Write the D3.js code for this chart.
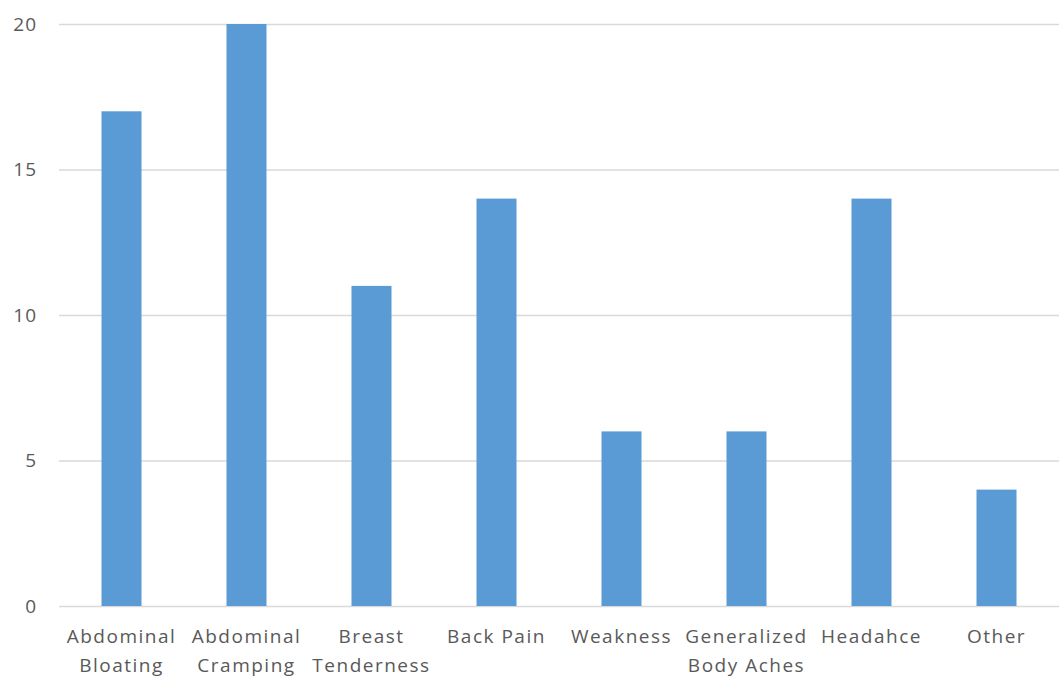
<!DOCTYPE html>
<html>
<head>
<meta charset="utf-8">
<script src="https://cdn.jsdelivr.net/npm/d3@7"></script>
<style>
  html, body { margin: 0; padding: 0; background: #fff; }
  svg { display: block; font-family: "Open Sans", "Noto Sans", sans-serif; }
</style>
</head>
<body>
<div id="chart"></div>
<script>
// ============ Data ============
const categories = [
  ['Abdominal', 'Bloating'],
  ['Abdominal', 'Cramping'],
  ['Breast', 'Tenderness'],
  ['Back Pain'],
  ['Weakness'],
  ['Generalized', 'Body Aches'],
  ['Headahce'],
  ['Other']
];
const values = [17, 20, 11, 14, 6, 6, 14, 4];
const yTicks = [0, 5, 10, 15, 20];

// ============ Layout ============
const W = 1063, H = 677;
const plot = { left: 59, right: 1059, top: 24, bottom: 606 };

const svg = d3.select('#chart').append('svg')
  .attr('width', W).attr('height', H);

const x = d3.scaleBand()
  .domain(d3.range(categories.length))
  .range([plot.left, plot.right])
  .paddingInner(0.68).paddingOuter(0.34);

const y = d3.scaleLinear()
  .domain([0, 20])
  .range([plot.bottom, plot.top]);

// ── Gridlines ──
svg.append('g').selectAll('line')
  .data(yTicks).enter().append('line')
  .attr('x1', plot.left).attr('x2', plot.right)
  .attr('y1', d => y(d) + 0.5).attr('y2', d => y(d) + 0.5)
  .attr('stroke', '#d9d9d9').attr('stroke-width', 1.3);

// ── Y axis labels ──
const yAxis = d3.axisLeft(y).tickValues(yTicks).tickSize(0).tickPadding(0);
const yg = svg.append('g').attr('transform', 'translate(37,0)').call(yAxis);
yg.select('.domain').remove();
yg.selectAll('text')
  .attr('fill', '#595959')
  .attr('font-size', 19)
  .attr('letter-spacing', 1)
  .attr('font-family', '"Open Sans", sans-serif');

// ── Bars ──
svg.append('g').selectAll('rect')
  .data(values).enter().append('rect')
  .attr('x', (d, i) => x(i))
  .attr('width', x.bandwidth())
  .attr('y', d => y(d))
  .attr('height', d => y(0) - y(d))
  .attr('fill', '#5b9bd5');

// ── X labels ──
const xl = svg.append('g').selectAll('text')
  .data(categories).enter().append('text')
  .attr('x', (d, i) => x(i) + x.bandwidth() / 2)
  .attr('y', 643)
  .attr('text-anchor', 'middle')
  .attr('fill', '#595959')
  .attr('font-size', 19)
  .attr('letter-spacing', 1.5);

xl.selectAll('tspan')
  .data(d => d).enter().append('tspan')
  .attr('x', function () { return d3.select(this.parentNode).attr('x'); })
  .attr('dy', (d, i) => i === 0 ? 0 : 29)
  .text(d => d);
</script>
</body>
</html>
